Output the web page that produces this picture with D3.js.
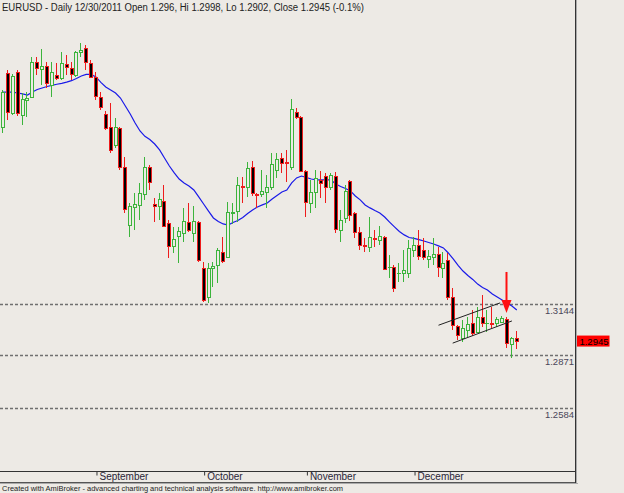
<!DOCTYPE html>
<html><head><meta charset="utf-8">
<script src="https://cdn.jsdelivr.net/npm/d3@7"></script>
<style>
html,body{margin:0;padding:0;background:#EDEAE5;}
svg{display:block;font-family:"Liberation Sans",Arial,sans-serif;}
</style></head><body>
<svg id="chart" width="624" height="493"></svg>
<script>
const titleText = "EURUSD - Daily 12/30/2011 Open 1.296, Hi 1.2998, Lo 1.2902, Close 1.2945 (-0.1%)";
const footerText = "Created with AmiBroker - advanced charting and technical analysis software. http://www.amibroker.com";
const firstDate = "2011-08-05";
const lastDate = "2011-12-30";
const monthNames = ["January","February","March","April","May","June","July","August","September","October","November","December"];

const opens = [1.4095,1.4386,1.4170,1.4392,1.4159,1.4240,1.4256,1.4444,1.4406,1.4422,
1.4320,1.4374,1.4358,1.4433,1.4411,1.4374,1.4497,1.4519,1.4438,1.4363,
1.4256,1.4164,1.4095,1.3998,1.4089,1.3880,1.3568,1.3665,1.3676,1.3735,
1.3880,1.3681,1.3670,1.3697,1.3579,1.3456,1.3509,1.3525,1.3584,1.3525,
1.3584,1.3337,1.3182,1.3337,1.3353,1.3423,1.3396,1.3633,1.3643,1.3778,
1.3772,1.3880,1.3737,1.3735,1.3745,1.3772,1.3864,1.3928,1.3907,1.3880,
1.4175,1.4148,1.3858,1.3686,1.3745,1.3810,1.3831,1.3772,1.3831,1.3541,
1.3606,1.3805,1.3633,1.3531,1.3461,1.3450,1.3498,1.3488,1.3504,1.3343,
1.3343,1.3311,1.3311,1.3311,1.3434,1.3461,1.3434,1.3386,1.3396,1.3413,
1.3337,1.3380,1.3182,1.3026,1.2961,1.3004,1.3042,1.2994,1.3074,1.3042,
1.3042,1.3042,1.3047,1.3063,1.2929,1.2960];
const highs = [1.4293,1.4401,1.4379,1.4401,1.4277,1.4282,1.4470,1.4470,1.4513,1.4444,
1.4444,1.4438,1.4497,1.4481,1.4444,1.4503,1.4546,1.4535,1.4454,1.4390,
1.4282,1.4180,1.4223,1.4143,1.4095,1.3933,1.3686,1.3740,1.3794,1.3933,
1.3890,1.3713,1.3740,1.3783,1.3595,1.3558,1.3558,1.3660,1.3686,1.3670,
1.3590,1.3370,1.3364,1.3370,1.3445,1.3504,1.3692,1.3686,1.3826,1.3826,
1.3907,1.3912,1.3740,1.3864,1.3837,1.3955,1.3955,1.3955,1.3971,1.4245,
1.4197,1.4154,1.3864,1.3810,1.3864,1.3858,1.3848,1.3848,1.3853,1.3649,
1.3783,1.3810,1.3638,1.3558,1.3498,1.3611,1.3541,1.3563,1.3509,1.3407,
1.3353,1.3364,1.3434,1.3488,1.3504,1.3541,1.3498,1.3434,1.3498,1.3450,
1.3423,1.3418,1.3230,1.3031,1.3058,1.3074,1.3112,1.3128,1.3192,1.3112,
1.3128,1.3074,1.3080,1.3074,1.2967,1.2998];
const lows = [1.4062,1.4132,1.4159,1.4154,1.4105,1.4148,1.4250,1.4374,1.4320,1.4304,
1.4256,1.4347,1.4347,1.4374,1.4347,1.4363,1.4470,1.4401,1.4358,1.4240,
1.4186,1.4078,1.3955,1.3982,1.3864,1.3633,1.3504,1.3541,1.3595,1.3703,
1.3756,1.3584,1.3595,1.3558,1.3391,1.3418,1.3364,1.3477,1.3531,1.3477,
1.3370,1.3155,1.3149,1.3235,1.3257,1.3364,1.3391,1.3574,1.3584,1.3686,
1.3719,1.3724,1.3660,1.3719,1.3660,1.3756,1.3821,1.3848,1.3799,1.3864,
1.4138,1.3853,1.3611,1.3633,1.3660,1.3713,1.3686,1.3756,1.3525,1.3477,
1.3579,1.3590,1.3498,1.3434,1.3423,1.3423,1.3450,1.3461,1.3327,1.3284,
1.3208,1.3262,1.3262,1.3284,1.3396,1.3380,1.3380,1.3337,1.3353,1.3289,
1.3284,1.3166,1.3004,1.2951,1.2940,1.2967,1.2972,1.2988,1.3021,1.2994,
1.3015,1.3021,1.3042,1.2908,1.2854,1.2902];
const closes = [1.4282,1.4177,1.4368,1.4170,1.4245,1.4250,1.4444,1.4411,1.4422,1.4331,
1.4390,1.4358,1.4438,1.4417,1.4379,1.4497,1.4508,1.4444,1.4363,1.4261,
1.4202,1.4089,1.3971,1.4095,1.3880,1.3654,1.3670,1.3681,1.3740,1.3880,
1.3799,1.3670,1.3708,1.3563,1.3456,1.3493,1.3536,1.3590,1.3541,1.3590,
1.3380,1.3166,1.3337,1.3348,1.3434,1.3375,1.3638,1.3638,1.3783,1.3772,
1.3874,1.3740,1.3732,1.3751,1.3772,1.3896,1.3923,1.3901,1.3901,1.4191,
1.4148,1.3858,1.3692,1.3745,1.3821,1.3794,1.3772,1.3837,1.3547,1.3595,
1.3751,1.3622,1.3531,1.3461,1.3456,1.3504,1.3493,1.3509,1.3332,1.3344,
1.3230,1.3312,1.3327,1.3445,1.3461,1.3402,1.3396,1.3402,1.3413,1.3343,
1.3364,1.3182,1.3031,1.2978,1.3015,1.3037,1.2988,1.3074,1.3042,1.3043,
1.3039,1.3063,1.3069,1.2935,1.2961,1.2945];
const maValues = [1.4282,1.4282,1.4282,1.4277,1.4272,1.4266,1.4282,1.4296,1.4304,1.4312,
1.4318,1.4324,1.4329,1.4335,1.4343,1.4355,1.4368,1.4377,1.4377,1.4363,
1.4334,1.4309,1.4293,1.4277,1.4250,1.4207,1.4164,1.4116,1.4073,1.4044,
1.4027,1.4003,1.3971,1.3928,1.3885,1.3848,1.3815,1.3794,1.3778,1.3756,
1.3719,1.3681,1.3643,1.3606,1.3587,1.3574,1.3568,1.3582,1.3592,1.3609,
1.3630,1.3649,1.3665,1.3676,1.3686,1.3708,1.3727,1.3745,1.3756,1.3794,
1.3821,1.3831,1.3823,1.3815,1.3810,1.3810,1.3810,1.3810,1.3788,1.3775,
1.3764,1.3751,1.3724,1.3703,1.3676,1.3660,1.3646,1.3633,1.3611,1.3584,
1.3558,1.3533,1.3515,1.3501,1.3496,1.3490,1.3482,1.3474,1.3466,1.3456,
1.3445,1.3418,1.3386,1.3351,1.3321,1.3297,1.3276,1.3251,1.3233,1.3219,
1.3198,1.3182,1.3166,1.3149,1.3133,1.3112];
const levelValues = [1.3144, 1.2871, 1.2584];
const lastCloseLabel = 1.2945;
const arrowBar = 103, arrowTail = 1.3316, arrowTip = 1.3096;
const channelUpper = [[89, 1.3030], [101.6, 1.3150]];
const channelLower = [[91.9, 1.2934], [104, 1.3053]];

const W = 624, H = 493;
const BG = "#EDEAE5", UP = "#3CB43C", DOWN = "#EE1C1C";
const svg = d3.select("#chart");

// trading days (weekdays) between first and last date
const parse = d3.utcParse("%Y-%m-%d");
const dates = d3.utcDays(parse(firstDate), d3.utcDay.offset(parse(lastDate), 1))
  .filter(d => d.getUTCDay() !== 0 && d.getUTCDay() !== 6);
const n = opens.length;

const x = d3.scaleLinear().domain([0, n - 1]).range([3, 516.8]);
const y = d3.scaleLinear().domain([1.2584, 1.3144]).range([408.3, 304]);

// title
svg.append("text").attr("x", 2).attr("y", 10.5)
  .attr("font-size", 10).attr("fill", "#222")
  .attr("textLength", 362).attr("lengthAdjust", "spacingAndGlyphs")
  .text(titleText);

// level lines + labels
const lv = svg.append("g");
levelValues.forEach(v => {
  const yy = Math.round(y(v)) + 0.5;
  lv.append("line").attr("x1", 0).attr("x2", 575).attr("y1", yy).attr("y2", yy)
    .attr("stroke", "#707070").attr("stroke-width", 1.3).attr("stroke-dasharray", "3,2");
  lv.append("text").attr("x", 574).attr("y", yy + 9.5).attr("text-anchor", "end")
    .attr("font-size", 9.5).attr("fill", "#4a4658").text(v.toFixed(4));
});

// MA line
svg.append("path").datum(maValues)
  .attr("d", d3.line().x((d, i) => x(i)).y(d => y(d)))
  .attr("fill", "none").attr("stroke", "#1A1AE8").attr("stroke-width", 1.2);

// candles
const cg = svg.append("g").attr("shape-rendering", "crispEdges");
d3.range(n).forEach(i => {
  const o = opens[i], h = highs[i], l = lows[i], c = closes[i];
  const up = c >= o;
  const col = up ? UP : DOWN;
  const cx = Math.round(x(i));
  cg.append("line").attr("x1", cx - 0.5).attr("x2", cx - 0.5)
    .attr("y1", y(h)).attr("y2", y(l)).attr("stroke", col).attr("stroke-width", 1);
  const top = y(Math.max(o, c)), bot = y(Math.min(o, c));
  const bh = Math.round(bot - top);
  if (bh < 1) {
    cg.append("line").attr("x1", cx - 2).attr("x2", cx + 2)
      .attr("y1", Math.round(top) + 0.5).attr("y2", Math.round(top) + 0.5)
      .attr("stroke", col).attr("stroke-width", 1.5);
  } else {
    cg.append("rect").attr("x", cx - 1.5).attr("width", 3)
      .attr("y", Math.round(top) + 0.5).attr("height", bh)
      .attr("fill", up ? BG : "#000").attr("stroke", col).attr("stroke-width", 1);
  }
});

// channel lines
[channelUpper, channelLower].forEach(seg => {
  svg.append("line")
    .attr("x1", x(seg[0][0])).attr("y1", y(seg[0][1]))
    .attr("x2", x(seg[1][0])).attr("y2", y(seg[1][1]))
    .attr("stroke", "#222").attr("stroke-width", 1);
});

// arrow
const ax = Math.round(x(arrowBar)) - 0.5;
const ay1 = y(arrowTail), ay2 = y(arrowTip);
svg.append("line").attr("x1", ax).attr("x2", ax).attr("y1", ay1).attr("y2", ay2 - 10)
  .attr("stroke", "#FF1010").attr("stroke-width", 2);
svg.append("path")
  .attr("d", `M${ax - 5},${ay2 - 13} L${ax + 5},${ay2 - 13} L${ax},${ay2} Z`)
  .attr("fill", "#FF1010");

// last value label
const ly = y(lastCloseLabel);
svg.append("rect").attr("x", 576.5).attr("y", ly - 5.5).attr("width", 33).attr("height", 11)
  .attr("fill", "#FF0000");
svg.append("text").attr("x", 608.5).attr("y", ly + 3.6).attr("text-anchor", "end")
  .attr("font-size", 9.5).attr("fill", "#000").text(lastCloseLabel.toFixed(4));

// x axis with month ticks
const monthStarts = d3.range(1, n).filter(i => dates[i].getUTCMonth() !== dates[i - 1].getUTCMonth());
const axis = d3.axisBottom(x).tickValues(monthStarts).tickSize(4)
  .tickFormat(i => monthNames[dates[i].getUTCMonth()]);
const ag = svg.append("g").attr("transform", "translate(0,471.5)").call(axis);
ag.select(".domain").remove();
ag.selectAll(".tick line").attr("stroke", "#333").attr("transform", "translate(0.5,0)");
ag.selectAll(".tick text").attr("x", 3).attr("y", 1).attr("dy", "0.71em")
  .attr("text-anchor", "start").attr("font-size", 10).attr("fill", "#2a2638")
  .attr("font-family", "Liberation Sans, Arial, sans-serif");

// frame lines
svg.append("line").attr("x1", 0).attr("x2", 576).attr("y1", 471.5).attr("y2", 471.5).attr("stroke", "#333");
svg.append("line").attr("x1", 0).attr("x2", 577).attr("y1", 482.5).attr("y2", 482.5).attr("stroke", "#555");
svg.append("line").attr("x1", 0).attr("x2", 578).attr("y1", 483.5).attr("y2", 483.5).attr("stroke", "#aaa");
svg.append("line").attr("x1", 575.5).attr("x2", 575.5).attr("y1", 0).attr("y2", 483).attr("stroke", "#333");
svg.append("line").attr("x1", 576.5).attr("x2", 576.5).attr("y1", 0).attr("y2", 484).attr("stroke", "#aaa");

// footer
svg.append("text").attr("x", 2).attr("y", 491).attr("font-size", 7).attr("fill", "#222")
  .attr("textLength", 341).attr("lengthAdjust", "spacingAndGlyphs").text(footerText);
</script>
</body></html>
